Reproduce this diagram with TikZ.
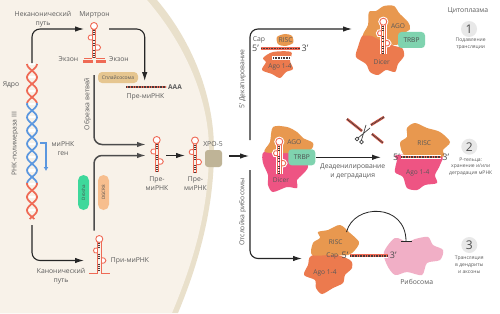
\documentclass[tikz,border=0pt]{standalone}
\usepackage{fontspec}
\setmainfont{Open Sans}
\usetikzlibrary{%
  arrows.meta,%
  calc%
}
\definecolor{nuccream}{HTML}{F8F2E9}
\definecolor{nucband}{HTML}{E9E0CB}
\definecolor{rnared}{HTML}{EF6A55}
\definecolor{dnablue}{HTML}{5B97DF}
\definecolor{tickdark}{HTML}{4A3A3A}
\definecolor{agoorange}{HTML}{E8984F}
\definecolor{dicerred}{HTML}{EC7A4E}
\definecolor{dicerpink}{HTML}{EE5483}
\definecolor{ribopink}{HTML}{F1AFC6}
\definecolor{trbpgreen}{HTML}{7FD3AF}
\definecolor{labelgrey}{HTML}{5A5A5A}
\definecolor{splicetan}{HTML}{E6C690}
\definecolor{droshagreen}{HTML}{3FD89B}
\definecolor{dgcrorange}{HTML}{F7BE8E}
\definecolor{xpotan}{HTML}{BFB497}
\tikzset{
  >={Latex[length=9pt,width=5.5pt]},
  link/.style={draw=black!85,line width=1.1pt,rounded corners=8pt},
  cutlink/.style={draw=black!70,line width=1.5pt,rounded corners=8pt},
  lbl/.style={font=\fontsize{6.8}{9}\selectfont,text=labelgrey,align=center,inner sep=0pt},
  lblsmall/.style={font=\fontsize{5}{6.6}\selectfont,text=labelgrey,align=center,inner sep=0pt},
  lbldark/.style={font=\fontsize{6.6}{9}\selectfont,text=black!65,inner sep=0pt},
  endmark/.style={font=\fontsize{9}{9}\selectfont,text=black!70,inner sep=0pt},
  pill/.style={rounded corners=5.5pt,minimum width=35pt,minimum height=11pt,inner sep=0pt,
    font=\fontsize{4.5}{5}\selectfont,text=black!70},
  numdisc/.style={circle,fill=black!9,minimum size=16pt,inner sep=0pt,
    font=\fontsize{12}{12}\selectfont,text=black!70},
  greenbox/.style={rounded corners=3.5pt,fill=trbpgreen,minimum width=27pt,minimum height=16pt,
    inner sep=0pt,font=\fontsize{6.6}{7}\selectfont,text=black!70},
  pinline/.style={draw=rnared,line width=.9pt},
  hairpin/.pic={
    \draw[pinline,fill=white] (0,0) circle (3.5);
    \draw[pinline,fill=white] (-1.7,9) .. controls (-7,7.5) and (-7.5,15.5) .. (-1.7,14);
    \draw[pinline,fill=white] (1.7,19) .. controls (8,17.5) and (8.5,25.5) .. (1.7,24);
    \draw[pinline] (-1.7,3.1) -- (-1.7,32) (1.7,3.1) -- (1.7,32);
    \draw[tickdark,line width=1.7pt,dash pattern=on 1pt off 1.2pt] (0,4) -- (0,9) (0,14.5) -- (0,19) (0,24.5) -- (0,31.5);
  },
  halopin/.pic={
    \pic[pinline/.style={draw=white,line width=3pt}] {hairpin};
    \pic {hairpin};
  },
  strandred/.style={draw=rnared,line width=2.6pt},
  strandtick/.style={draw=tickdark,line width=1.6pt,dash pattern=on .9pt off .7pt},
  strandhalo/.style={draw=white,line width=4.4pt}
}
% one piece of the double helix, lobes 13.3 apart
\newcommand{\helix}[3]{
  \draw[#1,line width=1.7pt,domain=#2:#3,samples=50,smooth] plot ({32+5*cos(13.534*(\x-64))},\x);
  \draw[#1,line width=1.7pt,domain=#2:#3,samples=50,smooth] plot ({32-5*cos(13.534*(\x-64))},\x);
}
\newcommand{\duplex}[2]{
  \draw[strandred] #1 -- #2;
  \draw[strandtick] #1 -- #2;
}
\newcommand{\haloduplex}[2]{
  \draw[strandhalo] #1 -- #2;
  \duplex{#1}{#2}
}
\begin{document}
\begin{tikzpicture}[x=1pt,y=-1pt]
  \useasboundingbox (0,0) rectangle (500,313);
  \fill[white] (0,0) rectangle (500,313);
  \fill[nucband] (0,0) -- (157,0) .. controls (195,45) and (214,100) .. (214,150)
    .. controls (214,215) and (195,272) .. (178,313) -- (0,313) -- cycle;
  \fill[nuccream] (0,0) -- (147,0) .. controls (190,50) and (209,105) .. (209,150)
    .. controls (209,215) and (190,270) .. (172,313) -- (0,313) -- cycle;

  \helix{rnared}{64}{103}
  \helix{dnablue}{103}{183}
  \helix{rnared}{183}{219}
  \foreach \n in {0,...,11}
    \draw[white,line width=2.2pt] ($(29,64)+(0,13.3*\n)$) -- ($(35,64)+(0,13.3*\n)$);
  \draw[dnablue,line width=1.3pt,->,>={Latex[length=4pt,width=5pt]}] (40,143) -- (46,143) -- (46,171);

  \node[lbl] (noncanon) at (43,19.5) {Неканонический\\путь};
  \node[lbl] (mirtronlbl) at (94.5,15) {Миртрон};
  \node[lbl] (nucleus) at (11,84.5) {Ядро};
  \node[lbl,rotate=90] (polymerase) at (15,143.5) {РНК-полимераза III};
  \node[lbl] (genelbl) at (63,148.5) {миРНК\\ген};
  \node[lbl] (exonleft) at (68.5,59) {Экзон};
  \node[lbl] (exonright) at (119,59) {Экзон};
  \node[lbl,rotate=90] (debranch) at (87.5,104) {Обрезка ветвей};
  \node[lbl] (premirtron) at (145.5,96.5) {Пре-миРНК};
  \node[lbl] (pre1) at (157,183.5) {Пре-\\миРНК};
  \node[lbl] (pre2) at (195.5,183.5) {Пре-\\миРНК};
  \node[lbl] (xpolbl) at (213,144) {ХРО-5};
  \node[lbl] (prilbl) at (130,260.5) {При-миРНК};
  \node[lbl] (canon) at (61,276) {Канонический\\путь};

  \pic at (94,26) {hairpin};
  \draw[pinline] (84,58) -- (92.3,58) (95.7,58) -- (105,58);
  \draw[rnared,line width=2.6pt] (83,61.7) -- (93,61.7) (95.5,61.7) -- (106,61.7);
  \pic at (156.7,140) {hairpin};
  \pic at (195,140.5) {hairpin};
  \pic at (99.3,239) {hairpin};
  \draw[pinline] (89,273) -- (97.6,273) -- (97.6,271) (101,271) -- (101,273) -- (110,273);

  \duplex{(126,87)}{(166,87)}
  \node[lbl,font=\fontsize{6.6}{8}\selectfont\bfseries] (polya) at (175,87) {AAA};

  \node[rounded corners=4pt,fill=splicetan,minimum width=40pt,minimum height=11pt,inner sep=0pt,
    font=\fontsize{5}{6}\selectfont,text=black!65] (spliceosome) at (118,77.5) {Сплайсосома};
  \node[pill,fill=droshagreen,rotate=90] (drosha) at (83.5,192.5) {Drosha};
  \node[pill,fill=dgcrorange,rotate=90] (dgcr8) at (103.5,192.5) {DGCR8};
  \node[rounded corners=3pt,fill=xpotan,minimum size=17pt,inner sep=0pt] (xpo) at (213.5,158.5) {};

  \coordinate (dnatop) at (32,63);
  \coordinate (mirtronin) at (84,29);
  \coordinate (mirtronout) at (109,29);
  \coordinate (preafter) at (144.7,81);
  \coordinate (dnabottom) at (32,225);
  \coordinate (priin) at (84,260.5);
  \coordinate (cutstart) at (94,75);
  \coordinate (cutend) at (146,144.5);
  \coordinate (pristart) at (94,230.5);
  \coordinate (priend) at (146,155.5);
  \coordinate (pre1out) at (166,155.5);
  \coordinate (pre2in) at (185,155.5);
  \coordinate (xpoout) at (229,156);
  \coordinate (xpoend) at (249,156);
  \coordinate (decapfoot) at (250,140);
  \coordinate (agotop) at (352,29);
  \coordinate (dropfoot) at (250,170);
  \coordinate (riscbottom) at (302,258.5);
  \coordinate (arcstart) at (346.5,232);
  \coordinate (arcend) at (406,242);
  \coordinate (deadstart) at (316,157.3);
  \coordinate (deadend) at (381,157.3);

  \draw[link,->] (dnatop) |- (mirtronin);
  \draw[link,->] (mirtronout) -| (preafter);
  \draw[link,->] (dnabottom) |- (priin);
  \draw[cutlink,->] (cutstart) |- (cutend);
  \draw[cutlink,->] (pristart) |- (priend);
  \draw[link,->] (pre1out) -- (pre2in);
  \draw[link,->] (xpoout) -- (xpoend);
  \draw[link,->] (decapfoot) |- (agotop);
  \draw[link,->] (dropfoot) |- (riscbottom);
  \draw[link,->] (deadstart) -- (deadend);

  \node[lbl,rotate=90] (decap) at (242.7,79) {5' Декапирование};
  \node[lbl,rotate=90] (dropoff) at (242.7,212) {Отслойка рибосомы};

  % small complex on the cap
  \fill[dicerred] plot[smooth cycle] coordinates {(263,58) (273,52) (291,52) (290,61) (293,69) (286,72) (280,78) (272,74) (262,70) (266,62)};
  \fill[agoorange] plot[smooth cycle] coordinates {(277,37) (285,34) (292,36) (293,43) (285,46) (278,44)};
  \node[lbl] (capsmall) at (259,40) {Cap};
  \node[lbl] (riscsmall) at (285.7,40.5) {RISC};
  \node[endmark] (fivesmall) at (255.5,48.5) {5'};
  \node[endmark] (threesmall) at (305,48.5) {3'};
  \duplex{(261,48.5)}{(300,48.5)}
  \draw[white,line width=3.6pt] (272,58) -- (291,58);
  \draw[strandtick,line width=2pt] (273,58) -- (290,58);
  \node[lbldark] (agosmall) at (280,66.5) {Ago 1-4};

  % dicer complex, top
  \fill[dicerred] plot[smooth cycle] coordinates {(363,35) (375,33) (392,45) (402,48) (404,56) (398,64) (395,72) (386,70) (378,75) (370,72) (366,64) (356,57) (358,47)};
  \fill[agoorange] plot[smooth cycle] coordinates {(369,12) (376,11) (384,6) (394,6) (399,13) (408,22) (410,29) (402,35) (400,44) (388,44) (372,36) (363,35) (368,25)};
  \pic at (383.3,21.7) {halopin};
  \node[lbldark] (agotoplbl) at (398,26.3) {AGO};
  \node[lbldark] (dicertoplbl) at (381.7,62.3) {Dicer};
  \node[greenbox] (trbptop) at (411.5,40) {TRBP};

  % dicer complex, middle
  \fill[dicerpink] plot[smooth cycle] coordinates {(263,153) (273,150) (303,157) (308,167) (302,175) (297,180) (297,188) (287,187) (273,192) (268,185) (268,175) (263,163)};
  \fill[agoorange] plot[smooth cycle] coordinates {(273,127) (287,127) (297,132) (303,138) (313,143) (310,150) (290,153) (265,152) (270,142)};
  \pic at (279.3,141.7) {halopin};
  \node[lbldark] (agomidlbl) at (294.3,142.3) {AGO};
  \node[lbldark] (dicermidlbl) at (281,180.3) {Dicer};
  \node[greenbox] (trbpmid) at (301.8,157.3) {TRBP};

  \node[lbl] (deadlbl) at (352.7,171) {Деаденилирование\\и деградация};

  % cut fragments and scissors
  \duplex{(347,119)}{(362,131)}
  \duplex{(371,125)}{(384,117)}
  \duplex{(372,134)}{(383,143)}
  \draw[black!75,line width=.7pt] (358,138) -- (370,128) (361.5,140) -- (366,125);
  \draw[black!75,line width=.7pt] (357,139) circle (1.9) (361.5,142) circle (1.9);

  % P-body complex
  \fill[dicerpink] plot[smooth cycle] coordinates {(397,160) (397,155) (440,155) (440,165) (435,175) (437,183) (425,185) (417,190) (407,188) (403,177) (395,172)};
  \fill[agoorange] plot[smooth cycle] coordinates {(407,128) (415,123) (427,128) (440,132) (450,142) (443,150) (442,157) (407,157) (400,143) (407,137)};
  \node[lbldark] (riscmid) at (424.3,143.3) {RISC};
  \node[lbldark] (agomid) at (417.7,173.3) {Ago 1-4};
  \haloduplex{(401,157)}{(441,157)}
  \node[endmark] (fivemid) at (396.5,157) {5'};
  \node[endmark] (threemid) at (445.7,157) {3'};

  % translation complex
  \fill[dicerred] plot[smooth cycle] coordinates {(311,256) (330,253) (350,260) (352,268) (345,275) (343,283) (333,288) (322,294) (316,288) (315,280) (304,275) (308,265)};
  \fill[agoorange] plot[smooth cycle] coordinates {(318,232) (328,230) (340,225) (350,233) (359,242) (355,250) (348,255) (330,255) (312,255) (313,243) (320,238)};
  \fill[ribopink] plot[smooth cycle] coordinates {(384,252) (395,238) (407,242) (415,239) (428,237) (433,245) (443,250) (440,260) (427,263) (422,275) (407,272) (395,275) (387,265)};
  \node[lbldark] (riscbot) at (335.7,241.7) {RISC};
  \node[lbldark] (capbot) at (332.3,255.7) {Cap};
  \node[lbldark] (agobot) at (325,272.7) {Ago 1-4};
  \node[endmark] (fivebot) at (345,255.7) {5'};
  \node[endmark] (threebot) at (393.3,255.7) {3'};
  \haloduplex{(350,255.7)}{(388,255.7)}
  \node[lbl] (ribosome) at (416.7,281.7) {Рибосома};
  \draw[black!85,line width=.8pt,-{Bar[width=11pt,length=1pt]}] (arcstart) .. controls (354,203) and (406,203) .. (arcend);

  \node[lbl] (cytoplasm) at (468,10.7) {Цитоплазма};
  \node[numdisc] (num1) at (469,29) {1};
  \node[numdisc] (num2) at (469.3,146.7) {2};
  \node[numdisc] (num3) at (469.3,245) {3};
  \node[lblsmall] (result1) at (470.7,44) {Подавление\\трансляции};
  \node[lblsmall] (result2) at (470.7,166.5) {Р-тельца:\\хранение и/или\\деградация мРНК};
  \node[lblsmall] (result3) at (469.3,264.7) {Трансляция\\в дендриты\\и аксоны};
\end{tikzpicture}
\end{document}
